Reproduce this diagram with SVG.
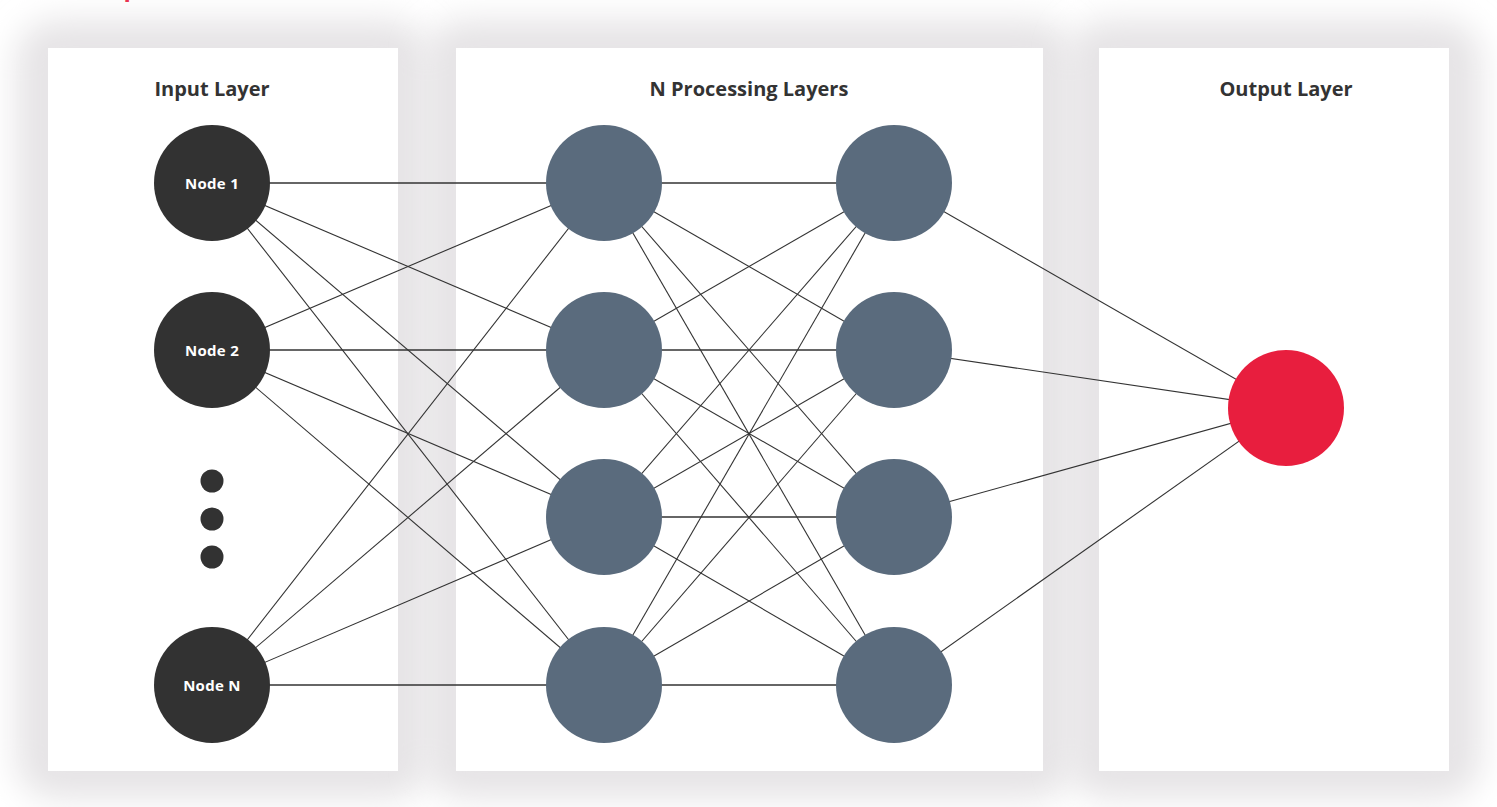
<svg xmlns="http://www.w3.org/2000/svg" width="1497" height="807" viewBox="0 0 1497 807">
  <defs>
    <filter id="shadow" x="-20%" y="-20%" width="140%" height="140%">
      <feGaussianBlur stdDeviation="16"/>
    </filter>
    <style>
      .panel { fill: #ffffff; }
      .shade { fill: #e6e4e6; filter: url(#shadow); }
      .title { font-family: "Open Sans", "Liberation Sans", sans-serif; font-weight: 700; font-size: 20px; fill: #333333; text-anchor: middle; }
      .lbl { font-family: "Open Sans", "Liberation Sans", sans-serif; font-weight: 700; font-size: 15px; fill: #ffffff; text-anchor: middle; letter-spacing: 0.3px; }
      .in { fill: #323232; }
      .hid { fill: #5a6b7d; }
      .out { fill: #e81e3e; }
      .conn line { stroke: #333333; stroke-width: 1.1; }
      .conn line.h { stroke-width: 1.6; }
    </style>
  </defs>
  <rect width="1497" height="807" fill="#ffffff"/>
  <text x="72" y="-4" font-family="Open Sans, Liberation Sans, sans-serif" font-weight="700" font-size="24" fill="#e81e3e" textLength="330">Simple Neural Network</text>

  <g id="panels">
    <rect class="shade" x="16" y="20" width="414" height="779" rx="40"/>
    <rect class="shade" x="424" y="20" width="651" height="779" rx="40"/>
    <rect class="shade" x="1067" y="20" width="414" height="779" rx="40"/>
    <rect class="panel" x="48" y="48" width="350" height="723"/>
    <rect class="panel" x="456" y="48" width="587" height="723"/>
    <rect class="panel" x="1099" y="48" width="350" height="723"/>
    <text class="title" x="212" y="96">Input Layer</text>
    <text class="title" x="749" y="96">N Processing Layers</text>
    <text class="title" x="1286" y="96">Output Layer</text>
  </g>

  <g id="connectors" class="conn">
    <line class="h" x1="212" y1="183" x2="604" y2="183"/>
    <line x1="212" y1="183" x2="604" y2="350"/>
    <line x1="212" y1="183" x2="604" y2="517"/>
    <line x1="212" y1="183" x2="604" y2="685"/>
    <line x1="212" y1="350" x2="604" y2="183"/>
    <line class="h" x1="212" y1="350" x2="604" y2="350"/>
    <line x1="212" y1="350" x2="604" y2="517"/>
    <line x1="212" y1="350" x2="604" y2="685"/>
    <line x1="212" y1="685" x2="604" y2="183"/>
    <line x1="212" y1="685" x2="604" y2="350"/>
    <line x1="212" y1="685" x2="604" y2="517"/>
    <line class="h" x1="212" y1="685" x2="604" y2="685"/>

    <line class="h" x1="604" y1="183" x2="894" y2="183"/>
    <line x1="604" y1="183" x2="894" y2="350"/>
    <line x1="604" y1="183" x2="894" y2="517"/>
    <line x1="604" y1="183" x2="894" y2="685"/>
    <line x1="604" y1="350" x2="894" y2="183"/>
    <line class="h" x1="604" y1="350" x2="894" y2="350"/>
    <line x1="604" y1="350" x2="894" y2="517"/>
    <line x1="604" y1="350" x2="894" y2="685"/>
    <line x1="604" y1="517" x2="894" y2="183"/>
    <line x1="604" y1="517" x2="894" y2="350"/>
    <line class="h" x1="604" y1="517" x2="894" y2="517"/>
    <line x1="604" y1="517" x2="894" y2="685"/>
    <line x1="604" y1="685" x2="894" y2="183"/>
    <line x1="604" y1="685" x2="894" y2="350"/>
    <line x1="604" y1="685" x2="894" y2="517"/>
    <line class="h" x1="604" y1="685" x2="894" y2="685"/>

    <line x1="894" y1="183" x2="1286" y2="408"/>
    <line x1="894" y1="350" x2="1286" y2="408"/>
    <line x1="894" y1="517" x2="1286" y2="408"/>
    <line x1="894" y1="685" x2="1286" y2="408"/>
  </g>

  <g id="input-node-1"><circle class="in" cx="212" cy="183" r="58"/><text class="lbl" x="212" y="189">Node 1</text></g>
  <g id="input-node-2"><circle class="in" cx="212" cy="350" r="58"/><text class="lbl" x="212" y="356">Node 2</text></g>
  <g id="input-ellipsis">
    <circle class="in" cx="212" cy="481" r="11.5"/>
    <circle class="in" cx="212" cy="519" r="11.5"/>
    <circle class="in" cx="212" cy="557" r="11.5"/>
  </g>
  <g id="input-node-n"><circle class="in" cx="212" cy="685" r="58"/><text class="lbl" x="212" y="691">Node N</text></g>

  <g id="h1-1"><circle class="hid" cx="604" cy="183" r="58"/></g>
  <g id="h1-2"><circle class="hid" cx="604" cy="350" r="58"/></g>
  <g id="h1-3"><circle class="hid" cx="604" cy="517" r="58"/></g>
  <g id="h1-4"><circle class="hid" cx="604" cy="685" r="58"/></g>
  <g id="h2-1"><circle class="hid" cx="894" cy="183" r="58"/></g>
  <g id="h2-2"><circle class="hid" cx="894" cy="350" r="58"/></g>
  <g id="h2-3"><circle class="hid" cx="894" cy="517" r="58"/></g>
  <g id="h2-4"><circle class="hid" cx="894" cy="685" r="58"/></g>

  <g id="output-node"><circle class="out" cx="1286" cy="408" r="58"/></g>
</svg>
